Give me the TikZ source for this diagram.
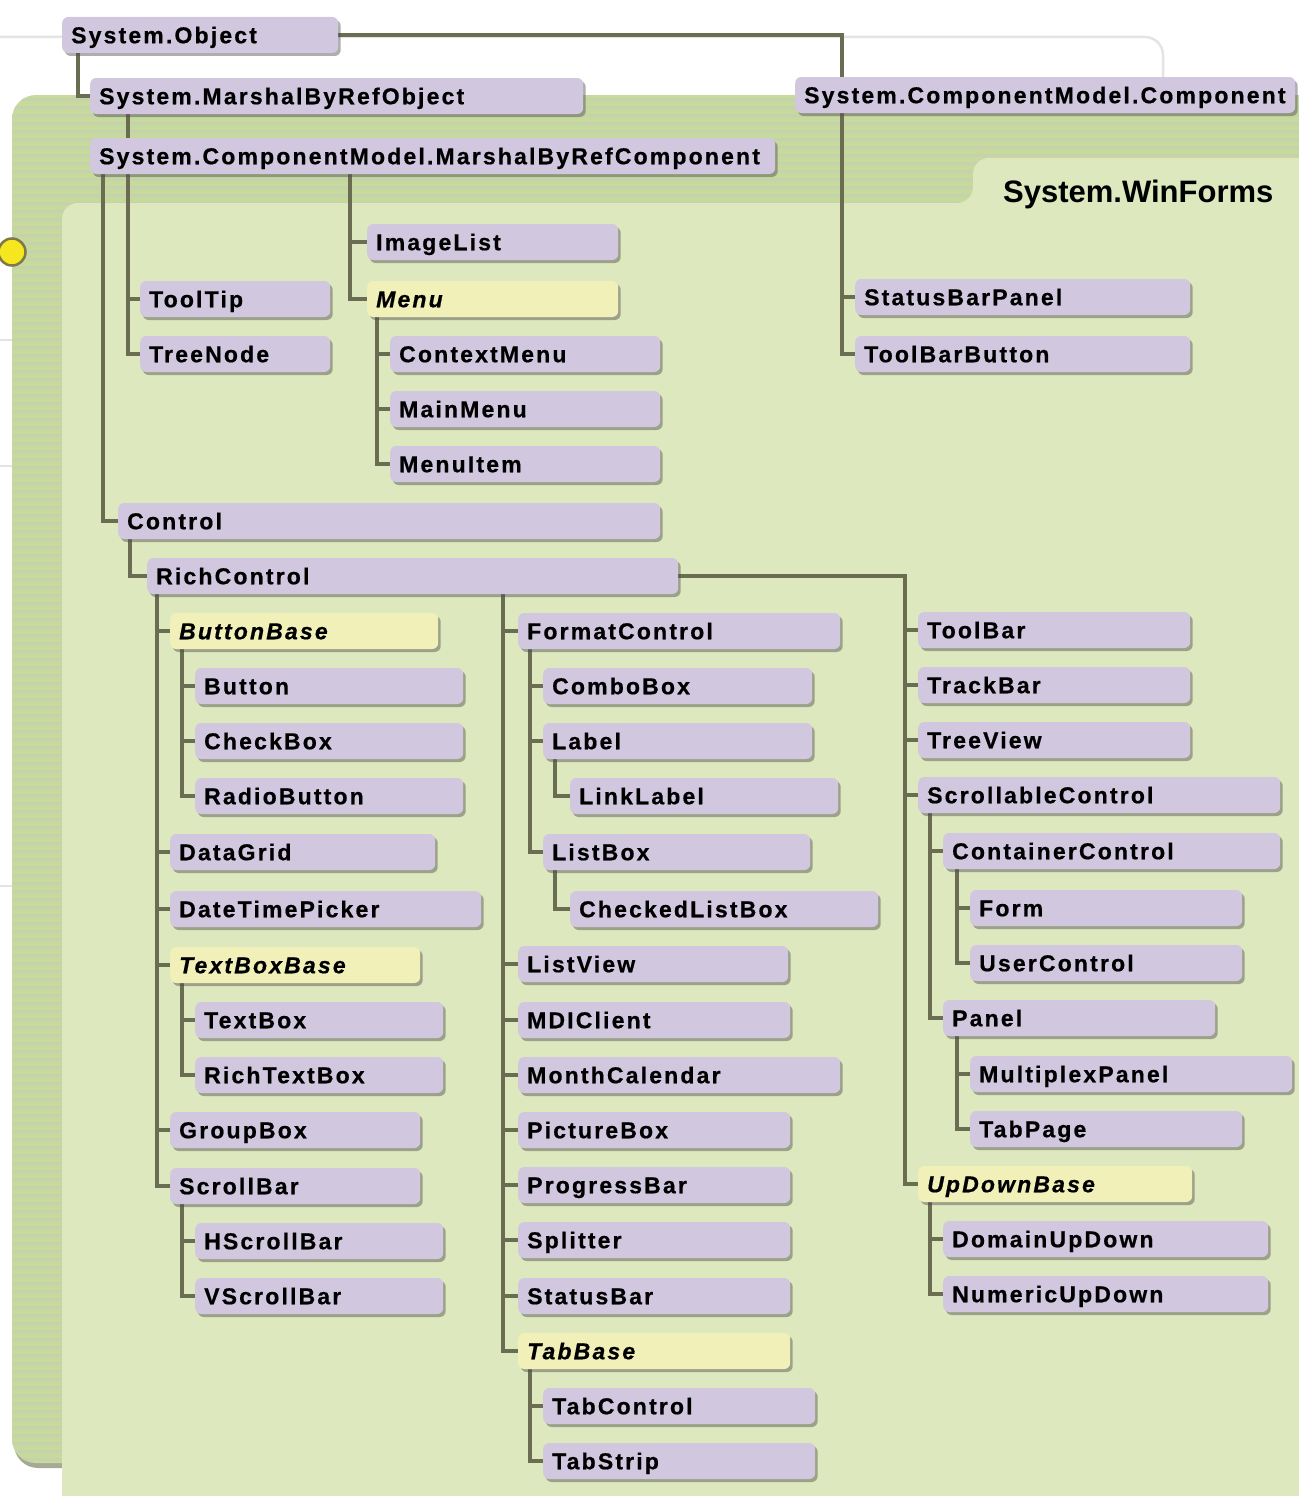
\documentclass[tikz,border=0pt]{standalone}
\usepackage{fontspec}
\setmainfont{Liberation Sans}
\newfontfamily\boxfont[LetterSpace=9.4, BoldFeatures={FakeBold=0.6}, BoldItalicFeatures={FakeBold=0.6}]{Liberation Sans}
\usetikzlibrary{shadows}
\pgfdeclarelayer{bglayer}
\pgfdeclarelayer{wirelayer}
\pgfsetlayers{bglayer,wirelayer,main}
\definecolor{lav}{HTML}{D1C8E0}
\definecolor{ylw}{HTML}{F0F0B8}
\definecolor{wirec}{HTML}{6A6D52}
\definecolor{innerc}{HTML}{DEE8BE}
\definecolor{outerc}{HTML}{C4DB9C}
\definecolor{stripec}{HTML}{C9D0AE}
\definecolor{thinc}{HTML}{E4E4E4}
\definecolor{dotc}{HTML}{F6E620}
\definecolor{dotb}{HTML}{7F7A45}
\definecolor{pshadow}{HTML}{8E957A}
\tikzset{
  cbox/.style={draw=none, fill=lav, rounded corners=6pt, anchor=west,
    minimum height=36pt, inner xsep=9pt, inner ysep=0pt,
    text height=16.5pt, text depth=0pt, align=left,
    font=\boxfont\bfseries\fontsize{23pt}{25pt}\selectfont,
    drop shadow={shadow xshift=2.5pt, shadow yshift=-3pt, opacity=0.45, fill=black!70}},
  abox/.style={cbox, fill=ylw, font=\boxfont\bfseries\itshape\fontsize{23pt}{25pt}\selectfont},
  wire/.style={draw=wirec, line width=3.4pt},
}
\newcommand\cls[6][cbox]{%
  \pgfmathsetmacro\clsw{#4-#3-18}%
  \node[#1, text width=\clsw pt] (#2) at (#3,#5) {\mbox{#6}};}
\begin{document}
\begin{tikzpicture}[x=1pt,y=-1pt]
\clip (0,0) rectangle (1298,1496);
\useasboundingbox (0,0) rectangle (1298,1496);

% ---------- background panels ----------
\begin{pgfonlayer}{bglayer}
\fill[white] (0,0) rectangle (1298,1496);
\draw[thinc, line width=2.5pt, rounded corners=18pt] (0,37) -- (1163,37) -- (1163,110);
\foreach \yy in {340,466,886} \draw[thinc, line width=2pt] (0,\yy) -- (14,\yy);
\fill[pshadow, opacity=0.8, rounded corners=24pt] (14,100) rectangle (1340,1468);
\fill[outerc, rounded corners=24pt] (12,95) rectangle (1340,1463);
\begin{scope}
  \clip[rounded corners=24pt] (12,95) rectangle (1340,1463);
  \foreach \yy in {99,107,...,1463} \draw[stripec, line width=3pt] (12,\yy) -- (1340,\yy);
\end{scope}
\fill[innerc, rounded corners=16pt] (62,1530) -- (62,203) -- (973,203) -- (973,158) -- (1340,158) -- (1340,1530) -- cycle;
\node[circle, fill=dotc, draw=dotb, line width=2.5pt, minimum size=27pt, inner sep=0pt] (dot) at (12,252) {};
\end{pgfonlayer}

\node[anchor=base west, font=\bfseries\fontsize{31pt}{34pt}\selectfont, inner sep=0pt] (title) at (1003,202) {System.WinForms};

% ---------- classes ----------
\cls{sobj}{62}{338}{35}{System.Object}
\cls{mbro}{90}{583}{96}{System.MarshalByRefObject}
\cls{comp}{795}{1295}{95}{System.ComponentModel.Component}
\cls{mbrc}{90}{775}{156}{System.ComponentModel.MarshalByRefComponent}
\cls{imgl}{367}{618}{242}{ImageList}
\cls[abox]{menu}{367}{618}{299}{Menu}
\cls{ttip}{140}{330}{299}{ToolTip}
\cls{tnode}{140}{330}{354}{TreeNode}
\cls{ctxm}{390}{660}{354}{ContextMenu}
\cls{mainm}{390}{660}{409}{MainMenu}
\cls{mitem}{390}{660}{464}{MenuItem}
\cls{sbpan}{855}{1190}{297}{StatusBarPanel}
\cls{tbbtn}{855}{1190}{354}{ToolBarButton}
\cls{ctrl}{118}{660}{521}{Control}
\cls{rich}{147}{678}{576}{RichControl}

\cls[abox]{bbase}{170}{438}{631}{ButtonBase}
\cls{btn}{195}{463}{686}{Button}
\cls{chk}{195}{463}{741}{CheckBox}
\cls{radio}{195}{463}{796}{RadioButton}
\cls{dgrid}{170}{435}{852}{DataGrid}
\cls{dtp}{170}{481}{909}{DateTimePicker}
\cls[abox]{tbbase}{170}{420}{965}{TextBoxBase}
\cls{tbox}{195}{443}{1020}{TextBox}
\cls{rtb}{195}{443}{1075}{RichTextBox}
\cls{gbox}{170}{420}{1130}{GroupBox}
\cls{sbar}{170}{420}{1186}{ScrollBar}
\cls{hsb}{195}{443}{1241}{HScrollBar}
\cls{vsb}{195}{443}{1296}{VScrollBar}

\cls{fctl}{518}{840}{631}{FormatControl}
\cls{combo}{543}{812}{686}{ComboBox}
\cls{lbl}{543}{812}{741}{Label}
\cls{llbl}{570}{838}{796}{LinkLabel}
\cls{lbox}{543}{810}{852}{ListBox}
\cls{clb}{570}{878}{909}{CheckedListBox}
\cls{lview}{518}{788}{964}{ListView}
\cls{mdi}{518}{790}{1020}{MDIClient}
\cls{mcal}{518}{840}{1075}{MonthCalendar}
\cls{pbox}{518}{790}{1130}{PictureBox}
\cls{pbar}{518}{790}{1185}{ProgressBar}
\cls{split}{518}{790}{1240}{Splitter}
\cls{stbar}{518}{790}{1296}{StatusBar}
\cls[abox]{tbase}{518}{790}{1351}{TabBase}
\cls{tctl}{543}{815}{1406}{TabControl}
\cls{tstrip}{543}{815}{1461}{TabStrip}

\cls{tbar}{918}{1190}{630}{ToolBar}
\cls{trbar}{918}{1190}{685}{TrackBar}
\cls{tview}{918}{1190}{740}{TreeView}
\cls{scctl}{918}{1280}{795}{ScrollableControl}
\cls{cctl}{943}{1280}{851}{ContainerControl}
\cls{form}{970}{1242}{908}{Form}
\cls{uctl}{970}{1242}{963}{UserControl}
\cls{panel}{943}{1215}{1018}{Panel}
\cls{mpx}{970}{1292}{1074}{MultiplexPanel}
\cls{tpage}{970}{1242}{1129}{TabPage}
\cls[abox]{udb}{918}{1192}{1184}{UpDownBase}
\cls{dud}{943}{1268}{1239}{DomainUpDown}
\cls{nud}{943}{1268}{1294}{NumericUpDown}

% ---------- connectors ----------
\begin{pgfonlayer}{wirelayer}
\path[wire] ([xshift=16pt]sobj.south west) |- (mbro.west);
\path[wire] (sobj.east) -| ([xshift=47pt]comp.north west);
\foreach \c in {sbpan,tbbtn} \path[wire] ([xshift=47pt]comp.south west) |- (\c.west);
\path[wire] ([xshift=38pt]mbro.south west) -- ([xshift=38pt]mbrc.north west);
\path[wire] ([xshift=13pt]mbrc.south west) |- (ctrl.west);
\foreach \c in {ttip,tnode} \path[wire] ([xshift=38pt]mbrc.south west) |- (\c.west);
\foreach \c in {imgl,menu} \path[wire] ([xshift=260pt]mbrc.south west) |- (\c.west);
\foreach \c in {ctxm,mainm,mitem} \path[wire] ([xshift=10pt]menu.south west) |- (\c.west);
\path[wire] ([xshift=12pt]ctrl.south west) |- (rich.west);
\foreach \c in {bbase,dgrid,dtp,tbbase,gbox,sbar} \path[wire] ([xshift=10pt]rich.south west) |- (\c.west);
\foreach \c in {btn,chk,radio} \path[wire] ([xshift=12pt]bbase.south west) |- (\c.west);
\foreach \c in {tbox,rtb} \path[wire] ([xshift=12pt]tbbase.south west) |- (\c.west);
\foreach \c in {hsb,vsb} \path[wire] ([xshift=12pt]sbar.south west) |- (\c.west);
\foreach \c in {fctl,lview,mdi,mcal,pbox,pbar,split,stbar,tbase} \path[wire] ([xshift=356pt]rich.south west) |- (\c.west);
\foreach \c in {combo,lbl,lbox} \path[wire] ([xshift=12pt]fctl.south west) |- (\c.west);
\path[wire] ([xshift=12pt]lbl.south west) |- (llbl.west);
\path[wire] ([xshift=12pt]lbox.south west) |- (clb.west);
\foreach \c in {tctl,tstrip} \path[wire] ([xshift=12pt]tbase.south west) |- (\c.west);
\foreach \c in {tbar,trbar,tview,scctl,udb} \path[wire] (rich.east) -| ([xshift=-13pt]\c.west) -- (\c.west);
\foreach \c in {cctl,panel} \path[wire] ([xshift=12pt]scctl.south west) |- (\c.west);
\foreach \c in {form,uctl} \path[wire] ([xshift=14pt]cctl.south west) |- (\c.west);
\foreach \c in {mpx,tpage} \path[wire] ([xshift=14pt]panel.south west) |- (\c.west);
\foreach \c in {dud,nud} \path[wire] ([xshift=12pt]udb.south west) |- (\c.west);
\end{pgfonlayer}
\end{tikzpicture}
\end{document}
